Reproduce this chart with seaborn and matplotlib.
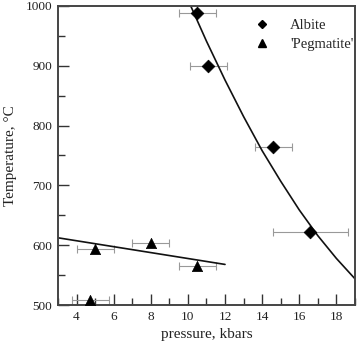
import numpy as np
import pandas as pd
import matplotlib
matplotlib.use("Agg")
import matplotlib.pyplot as plt
import seaborn as sns
from matplotlib.ticker import MultipleLocator
from matplotlib.lines import Line2D

# Data
albite_p = [10.5, 11.1, 14.6, 16.6]
albite_t = [988, 899, 764, 623]
albite_perr = [1.0, 1.0, 1.0, 2.0]

peg_p = [4.75, 5.0, 8.0, 10.5]
peg_t = [508, 594, 603, 565]
peg_perr = [1.0, 1.0, 1.0, 1.0]

# Fitted curves
albite_fit_p = [10.15, 11, 12, 13, 14, 15, 16, 17, 18, 19]
albite_fit_t = [1000, 941, 876, 815, 758, 707, 659, 616, 578, 544]
peg_fit_p = [3, 12]
peg_fit_t = [612.5, 568]

sns.set_theme(style="ticks")
plt.rcParams['font.family'] = ['Liberation Serif', 'DejaVu Serif']

fig = plt.figure(figsize=(3.6, 3.44), dpi=100)
ax = fig.add_axes([0.161, 0.113, 0.825, 0.870])

ax.errorbar(albite_p, albite_t, xerr=albite_perr, fmt='none', ecolor='#999999',
            elinewidth=0.8, capsize=3, capthick=0.8, zorder=1)
ax.errorbar(peg_p, peg_t, xerr=peg_perr, fmt='none', ecolor='#999999',
            elinewidth=0.8, capsize=3, capthick=0.8, zorder=1)

sns.lineplot(x=albite_fit_p, y=albite_fit_t, ax=ax, color='#111111', lw=1.2, zorder=2)
sns.lineplot(x=peg_fit_p, y=peg_fit_t, ax=ax, color='#111111', lw=1.2, zorder=2)

sns.scatterplot(x=albite_p, y=albite_t, marker='D', color='black', s=42,
                edgecolor='black', linewidth=0.5, ax=ax, zorder=3)
sns.scatterplot(x=peg_p, y=peg_t, marker='^', color='black', s=55,
                edgecolor='black', linewidth=0.5, ax=ax, zorder=3)

handles = [Line2D([], [], marker='D', color='black', ls='none', markersize=4.5),
           Line2D([], [], marker='^', color='black', ls='none', markersize=5.5)]
ax.legend(handles, ["Albite", "'Pegmatite'"], loc='upper right', frameon=False,
          fontsize=10.5, handletextpad=1.2, handlelength=1.5, borderaxespad=0.2,
          labelspacing=0.35, bbox_to_anchor=(1.025, 0.985))

ax.set_xlim(3, 19)
ax.set_ylim(500, 1000)
ax.xaxis.set_major_locator(MultipleLocator(2))
ax.xaxis.set_minor_locator(MultipleLocator(1))
ax.yaxis.set_major_locator(MultipleLocator(100))
ax.yaxis.set_minor_locator(MultipleLocator(50))
ax.tick_params(which='both', direction='in', top=False, right=False, colors='#333333',
               labelcolor='#222222', labelsize=9.5, width=1.0)
ax.tick_params(which='major', length=8, pad=4)
ax.tick_params(which='minor', length=5)
for s in ax.spines.values():
    s.set_color('#444444')
    s.set_linewidth(1.4)

ax.set_xlabel("pressure, kbars", fontsize=11, color='#222222', labelpad=4)
ax.set_ylabel("Temperature, °C", fontsize=11, color='#222222', labelpad=6)

fig.savefig("out.png", dpi=100)
